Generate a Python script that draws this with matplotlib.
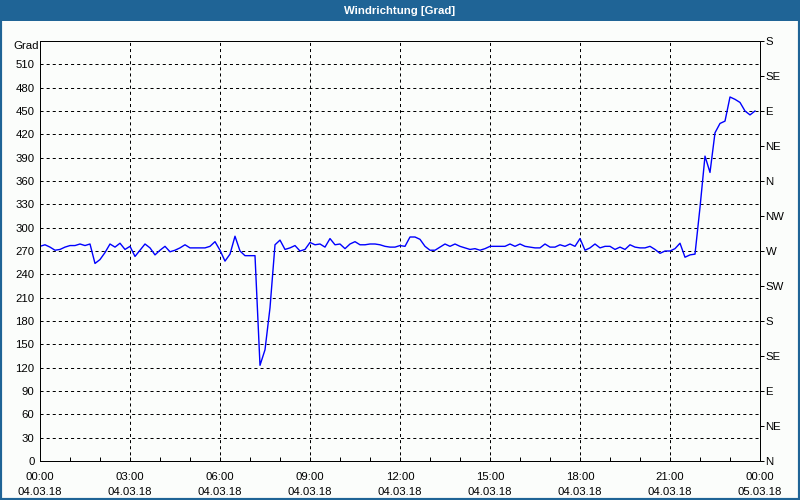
import matplotlib
matplotlib.use("Agg")
import matplotlib.pyplot as plt
from matplotlib.patches import Rectangle
import numpy as np

# ---- data ----
title = "Windrichtung [Grad]"
unit_label = "Grad"
step_minutes = 10
values = [
    276, 278, 275, 271, 272, 275, 277, 277, 279, 277,
    279, 254, 259, 268, 279, 275, 280, 272, 276, 263,
    271, 279, 274, 265, 271, 276, 269, 271, 274, 278,
    274, 274, 274, 274, 276, 282, 271, 257, 266, 289,
    270, 264, 264, 264, 123, 143, 197, 278, 284, 272,
    274, 277, 270, 272, 281, 278, 279, 275, 286, 278,
    279, 273, 279, 282, 278, 278, 279, 279, 278, 276,
    275, 275, 277, 276, 288, 288, 285, 276, 271, 271,
    275, 279, 276, 279, 276, 274, 272, 273, 271, 273,
    276, 276, 276, 276, 279, 276, 279, 276, 275, 274,
    274, 279, 275, 275, 278, 276, 279, 276, 286, 271,
    274, 279, 274, 276, 276, 272, 275, 272, 278, 275,
    274, 274, 276, 272, 267, 270, 270, 273, 280, 262,
    265, 266, 326, 392, 371, 422, 434, 437, 468, 465,
    461, 450, 445, 450,
]
x_tick_hours = [0, 3, 6, 9, 12, 15, 18, 21, 24]
x_tick_labels = ["00:00\n04.03.18", "03:00\n04.03.18", "06:00\n04.03.18",
                 "09:00\n04.03.18", "12:00\n04.03.18", "15:00\n04.03.18",
                 "18:00\n04.03.18", "21:00\n04.03.18", "00:00\n05.03.18"]
y_ticks = list(range(0, 511, 30))
right_ticks = list(range(0, 541, 45))
right_labels = ["N", "NE", "E", "SE", "S", "SW", "W", "NW", "N", "NE", "E", "SE", "S"]

hours = np.arange(len(values)) * step_minutes / 60.0

# ---- style ----
plt.rcParams['lines.scale_dashes'] = False
plt.rcParams['font.family'] = ['Liberation Sans', 'DejaVu Sans']
bar_color = '#1f6496'
bg = '#fbfdfb'
fs = 8.2
px = 0.72

fig = plt.figure(figsize=(8, 5), dpi=100, facecolor=bg)
ax = fig.add_axes([40/800, 39/500, 720/800, 420/500])
ax.set_facecolor(bg)

ax.plot(hours, values, color='#0000ff', linewidth=1.0)

ax.set_xlim(0, 24)
ax.set_ylim(0, 540)
ax.set_xticks(x_tick_hours)
ax.set_xticklabels(x_tick_labels, fontsize=fs, linespacing=1.55)
ax.set_xticks(np.arange(0, 25, 1), minor=True)
ax.set_yticks(y_ticks)
ax.set_yticklabels([str(v) for v in y_ticks], fontsize=fs)

ax.grid(True, which='major', color='black', linestyle=(0, (2.2, 2.2)), linewidth=px)
ax.tick_params(axis='x', which='both', direction='in', length=3, width=px, pad=8)
ax.tick_params(axis='y', which='major', direction='out', length=0, pad=4)
for s in ax.spines.values():
    s.set_linewidth(px)
    s.set_color('black')

ax2 = ax.twinx()
ax2.set_ylim(0, 540)
ax2.set_yticks(right_ticks)
ax2.set_yticklabels(right_labels, fontsize=fs)
ax2.tick_params(axis='y', direction='out', length=3, width=px, pad=1)
for s in ax2.spines.values():
    s.set_linewidth(px)

fig.text(13/800, 1 - 46/500, unit_label, fontsize=fs, va='center', ha='left')

# title bar and border
fig.patches.append(Rectangle((0, 1 - 21/500), 1, 21/500, transform=fig.transFigure,
                             facecolor=bar_color, edgecolor='none', zorder=0))
fig.patches.append(Rectangle((0, 0), 1, 1, transform=fig.transFigure, fill=False,
                             edgecolor=bar_color, linewidth=3.0, zorder=5))
fig.text(0.5, 1 - 10.5/500, title, color='white', fontsize=8.2, fontweight='bold',
         ha='center', va='center')

fig.savefig("out.png", dpi=100, facecolor=bg)
